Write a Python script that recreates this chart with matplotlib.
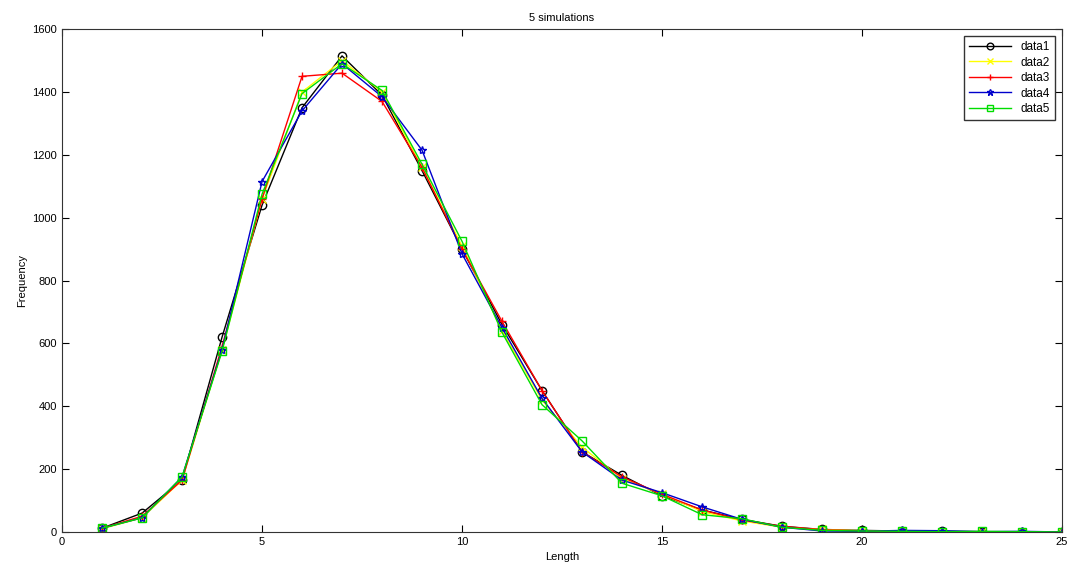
import matplotlib
matplotlib.use("Agg")
import matplotlib.pyplot as plt

# Length values
length = list(range(1, 26))

# Frequencies per simulation
data1 = [12, 60, 165, 620, 1040, 1350, 1515, 1390, 1150, 900, 660, 450, 255,
         180, 115, 70, 40, 18, 8, 5, 3, 2, 1, 0, 0]
data2 = [10, 45, 165, 580, 1060, 1400, 1500, 1400, 1160, 910, 640, 420, 270,
         170, 120, 65, 35, 15, 8, 4, 2, 1, 1, 0, 0]
data3 = [12, 50, 165, 590, 1060, 1450, 1460, 1370, 1160, 900, 670, 450, 255,
         175, 120, 70, 38, 18, 7, 3, 2, 1, 0, 0, 0]
data4 = [12, 45, 175, 580, 1115, 1340, 1490, 1385, 1215, 885, 650, 425, 255,
         165, 125, 80, 40, 15, 3, 2, 5, 4, 1, 2, 0]
data5 = [12, 45, 175, 575, 1075, 1395, 1490, 1405, 1170, 925, 635, 405, 290,
         155, 115, 55, 42, 15, 5, 3, 2, 1, 2, 1, 0]

series = [data1, data2, data3, data4, data5]
names = ["data1", "data2", "data3", "data4", "data5"]
colors = ["black", "yellow", "red", "#0000cc", "#00dd00"]
markers = ["o", "x", "+", "*", "s"]

plt.rcParams["font.family"] = "Liberation Sans"

fig = plt.figure(figsize=(10.7, 5.72), dpi=100)
ax = fig.add_axes([0.058, 0.07, 0.9345, 0.879])

for d, n, c, m in zip(series, names, colors, markers):
    ax.plot(length, d, color=c, marker=m, markersize=6, linewidth=1,
            markerfacecolor="none", markeredgecolor=c, label=n)

ax.set_xlim(0, 25)
ax.set_ylim(0, 1600)
ax.set_xticks([0, 5, 10, 15, 20, 25])
ax.set_yticks(range(0, 1601, 200))
ax.tick_params(direction="in", top=True, right=True, labelsize=8, length=5)
for s in ax.spines.values():
    s.set_color("#333333")

ax.set_xlabel("Length", fontsize=8)
ax.set_ylabel("Frequency", fontsize=8)
ax.set_title("5 simulations", fontsize=8)

ax.legend(loc="upper right", fontsize=8.5, fancybox=False, edgecolor="#333333",
          framealpha=1, handlelength=3.6, borderaxespad=0.6, labelspacing=0.3,
          markerscale=0.8, borderpad=0.4)

fig.savefig("out.png", dpi=100)
